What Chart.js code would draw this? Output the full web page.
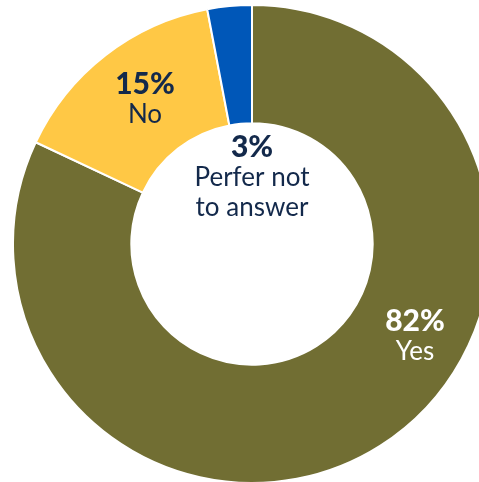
<!DOCTYPE html>
<html>
<head>
<meta charset="utf-8">
<script src="https://cdn.jsdelivr.net/npm/chart.js@4.4.1/dist/chart.umd.min.js"></script>
<style>
  html, body { margin: 0; padding: 0; background: #fff; overflow: hidden; width: 479px; height: 482px; }
  #wrap { position: absolute; left: 12px; top: 3.5px; width: 480px; height: 480px; }
</style>
</head>
<body>
<div id="wrap"><canvas id="myChart"></canvas></div>
<script>
// values
const labels = ['Yes', 'No', 'Perfer not to answer'];
const values = [82, 15, 3];
const colors = ['#716E33', '#FFC845', '#0057B8'];

// label text, drawn over the ring
const pctText = ['82%', '15%', '3%'];
const nameText = [['Yes'], ['No'], ['Perfer not', 'to answer']];
const textColors = ['#ffffff', '#13294B', '#13294B'];
// offsets from the centre of the doughnut
const textOffsets = [[163, 77], [-107, -160], [0, -97]];

const labelPlugin = {
  id: 'sliceLabels',
  afterDraw(chart) {
    const ctx = chart.ctx;
    const arc = chart.getDatasetMeta(0).data[0];
    const cx = arc.x, cy = arc.y;
    ctx.save();
    ctx.textAlign = 'center';
    ctx.textBaseline = 'middle';
    values.forEach((v, i) => {
      const x = cx + textOffsets[i][0];
      let y = cy + textOffsets[i][1];
      ctx.fillStyle = textColors[i];
      ctx.font = '900 30px Lato';
      ctx.fillText(pctText[i], x, y);
      ctx.font = '26px Lato';
      nameText[i].forEach(line => {
        y += 30.5;
        ctx.fillText(line, x, y);
      });
    });
    ctx.restore();
  }
};

const ctx = document.getElementById('myChart').getContext('2d');
const myChart = new Chart(ctx, {
  type: 'doughnut',
  data: {
    labels: labels,
    datasets: [{
      data: values,
      backgroundColor: colors,
      borderColor: '#ffffff',
      borderWidth: 2
    }]
  },
  options: {
    responsive: true,
    maintainAspectRatio: false,
    animation: false,
    events: [],
    cutout: '50.5%',
    layout: { padding: 0 },
    plugins: {
      legend: { display: false },
      tooltip: { enabled: false }
    }
  },
  plugins: [labelPlugin]
});
</script>
</body>
</html>
